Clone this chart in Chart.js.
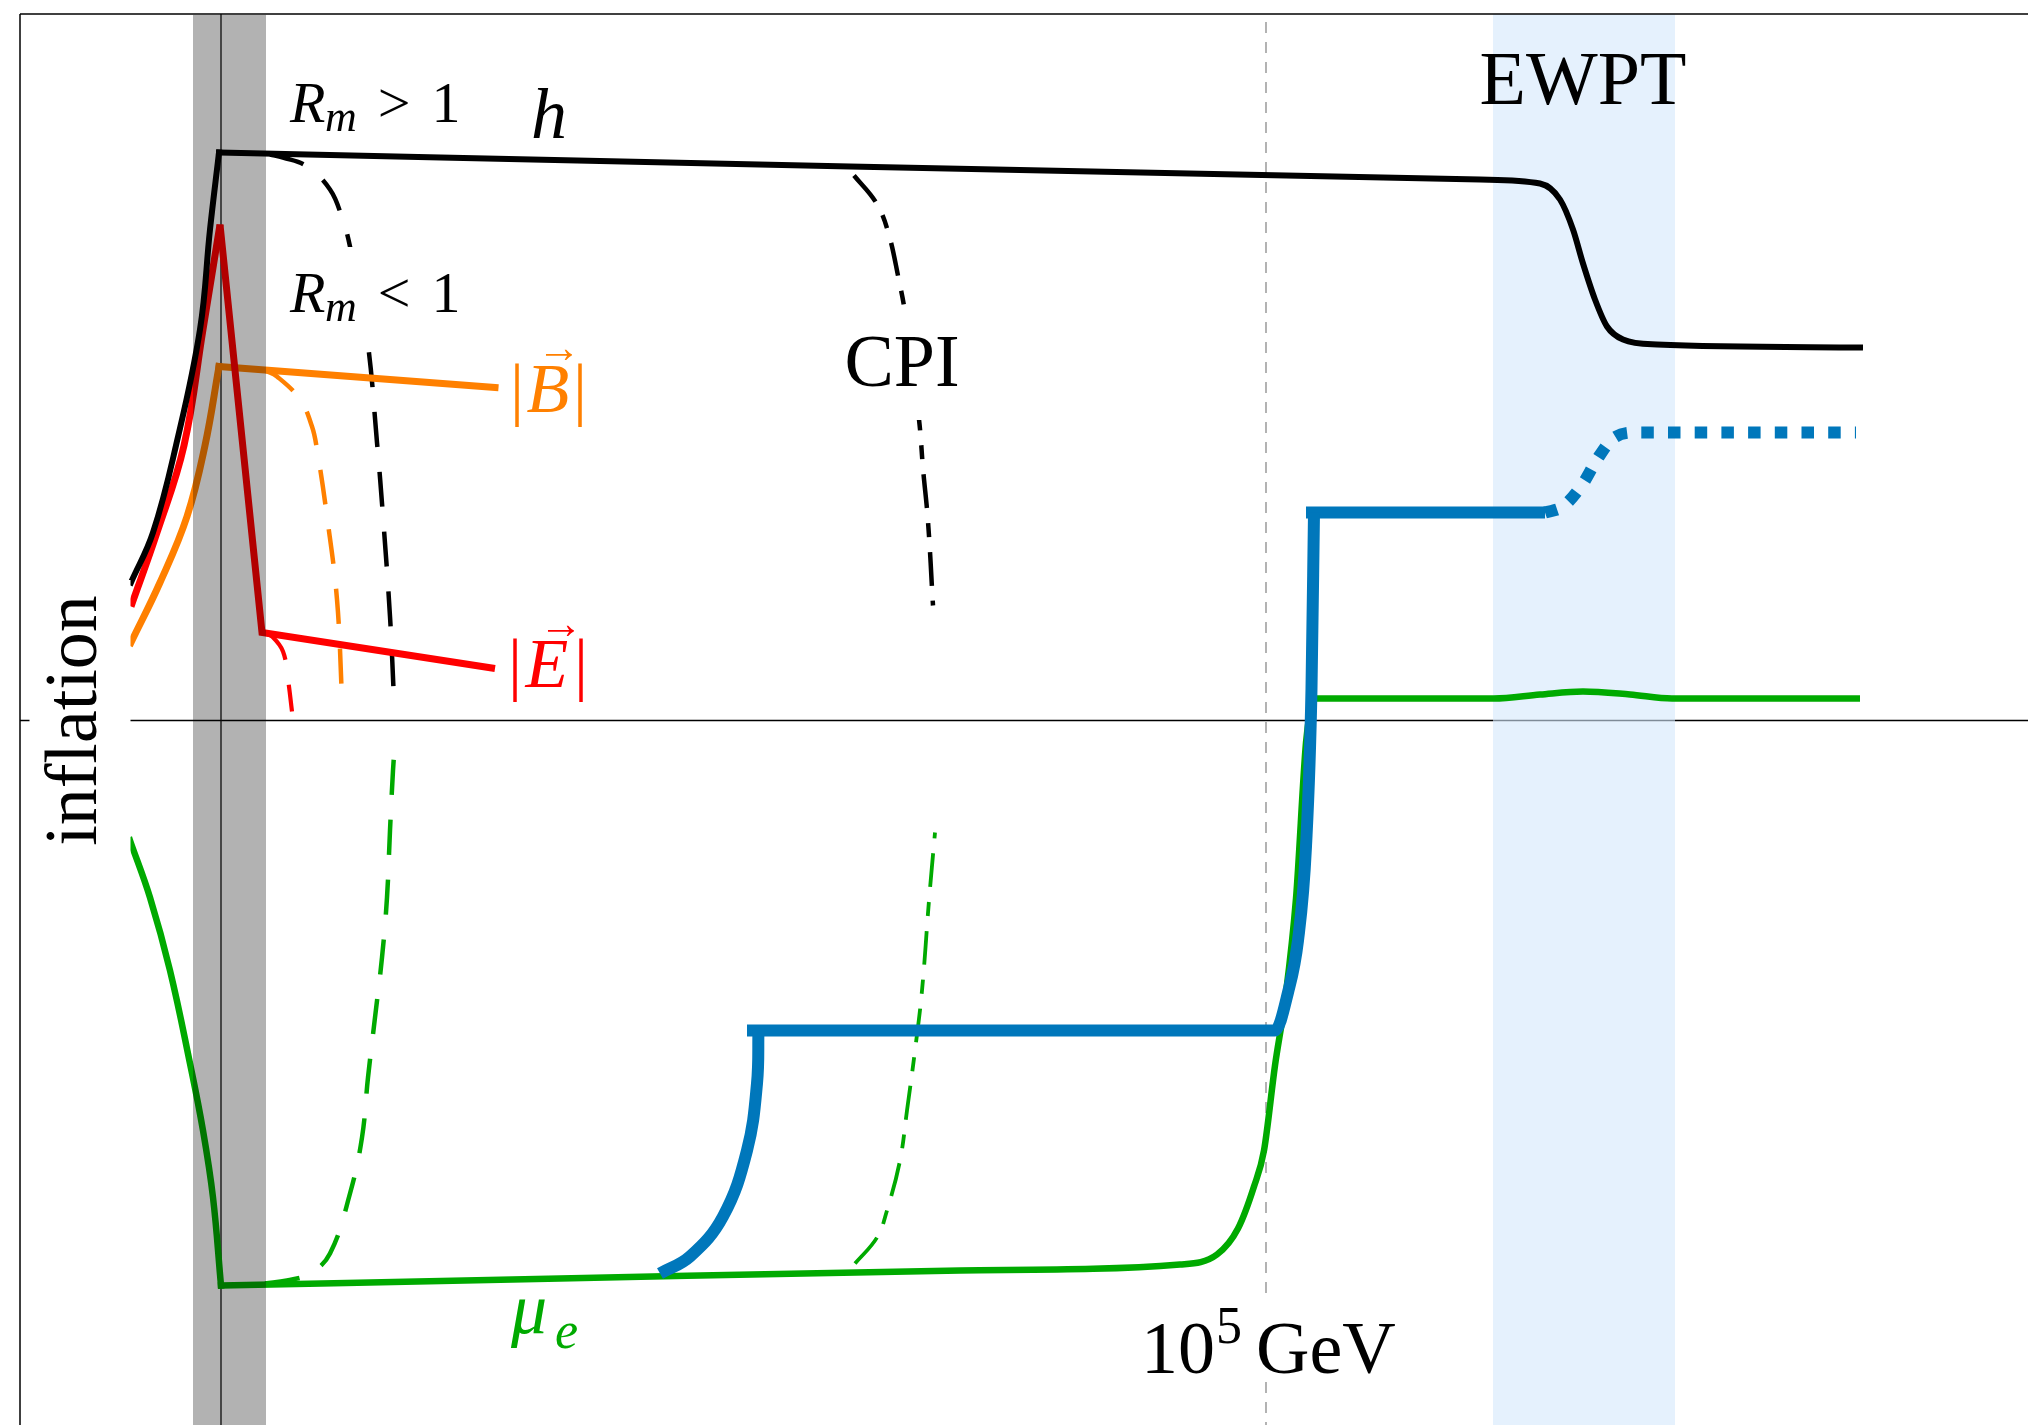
<!DOCTYPE html>
<html>
<head>
<meta charset="utf-8">
<title>Magnetic fields, chemical potential and the electroweak transition</title>
<script src="https://cdn.jsdelivr.net/npm/chart.js@4.4.1/dist/chart.umd.min.js"></script>
<style>
  html, body { margin: 0; padding: 0; background: #ffffff; }
  canvas { display: block; }
</style>
</head>
<body>
<canvas id="c" width="2028" height="1425"></canvas>
<script>
// Schematic history: horizontal = time (end of inflation at 0),
// vertical = log of the magnitude (arbitrary units, 0 on the middle axis).

// ---- Higgs vev h ----
const hRiseX = [-0.90, -0.68, -0.45, -0.21, -0.11, -0.02];
const hRiseY = [1.38, 1.88, 2.75, 3.91, 4.91, 5.68];
const hX = [-0.02, 6.29, 12.59, 13.19, 13.39, 13.52, 13.62, 13.74, 13.86, 14.02, 14.36, 16.39];
const hY = [5.68, 5.54, 5.41, 5.37, 5.21, 4.91, 4.57, 4.21, 3.94, 3.81, 3.76, 3.73];

// ---- electric field |E| ----
const eRiseX = [-0.90, -0.64, -0.37, -0.18, -0.01];
const eRiseY = [1.14, 1.88, 2.75, 3.91, 4.96];
const eX = [-0.01, 0.41, 2.74];
const eY = [4.96, 0.88, 0.52];

// ---- magnetic field |B| ----
const bRiseX = [-0.90, -0.61, -0.34, -0.16, -0.02];
const bRiseY = [0.78, 1.38, 2.04, 2.75, 3.54];
const bX = [-0.02, 2.74];
const bY = [3.54, 3.33];

// ---- electron chemical potential mu_e ----
const muFallX = [-0.91, -0.71, -0.51, -0.31, -0.18, -0.08, 0.00];
const muFallY = [-1.20, -1.77, -2.50, -3.43, -4.10, -4.77, -5.65];
const muX = [0.00, 3.39, 7.39, 9.59, 9.96, 10.17, 10.33, 10.43, 10.54, 10.64, 10.75, 10.85, 10.91];
const muY = [-5.65, -5.58, -5.50, -5.44, -5.34, -5.08, -4.66, -4.30, -3.45, -2.80, -1.78, -0.22, 0.21];
const muLateX = [10.93, 12.73, 13.19, 13.62, 14.09, 14.51, 16.39];
const muLateY = [0.22, 0.22, 0.26, 0.29, 0.26, 0.22, 0.22];

// ---- chiral asymmetry (thick blue) ----
const asymRiseX = [4.39, 4.69, 5.02, 5.26, 5.36, 5.375];
const asymRiseY = [-5.53, -5.36, -4.96, -4.30, -3.63, -3.08];
const asymStepX = [5.26, 7.79, 10.54, 10.67, 10.77, 10.85, 10.905, 10.93];
const asymStepY = [-3.10, -3.10, -3.10, -2.72, -2.20, -1.26, 0.32, 2.08];
const asymHighX = [10.85, 13.24];
const asymHighY = [2.08, 2.08];
const asymAfterX = [13.24, 13.42, 13.62, 13.76, 13.92, 14.16, 14.79, 16.35];
const asymAfterY = [2.08, 2.14, 2.37, 2.61, 2.82, 2.88, 2.88, 2.88];

// ---- alternative branches (dashed) ----
const rmHX = [0.49, 0.62, 0.86, 1.09, 1.21, 1.29, 1.46, 1.56, 1.62, 1.69, 1.73];
const rmHY = [5.66, 5.63, 5.54, 5.31, 5.03, 4.74, 3.83, 2.78, 2.04, 1.04, 0.21];
const rmMuX = [0.44, 0.66, 0.89, 1.09, 1.29, 1.41, 1.47, 1.54, 1.61, 1.66, 1.69, 1.72, 1.74];
const rmMuY = [-5.63, -5.60, -5.53, -5.33, -4.73, -4.17, -3.57, -2.97, -2.37, -1.77, -1.10, -0.50, -0.22];
const rmBX = [0.44, 0.56, 0.79, 0.91, 0.96, 1.06, 1.16, 1.21];
const rmBY = [3.50, 3.44, 3.21, 2.94, 2.71, 2.04, 1.21, 0.23];
const rmEX = [0.44, 0.51, 0.62, 0.67, 0.71];
const rmEY = [0.87, 0.84, 0.69, 0.41, 0.09];
const cpiHX = [6.33, 6.55, 6.67, 6.78, 6.84, 6.98, 7.02, 7.07, 7.12];
const cpiHY = [5.45, 5.18, 4.89, 4.40, 4.08, 3.01, 2.52, 1.99, 1.15];
const cpiMuX = [6.34, 6.56, 6.66, 6.79, 6.86, 6.94, 7.01, 7.08, 7.14];
const cpiMuY = [-5.43, -5.17, -4.90, -4.40, -3.90, -3.30, -2.70, -1.80, -1.12];

// ---- regions and markers ----
const reheatBand = [-0.28, 0.45];      // shaded reheating interval
const ewptBand = [12.72, 14.54];       // electroweak phase transition
const gevMark = 10.45;                 // 10^5 GeV
const frameLeft = -2.01, frameTop = 7.065;

// ---- text ----
const SERIF = '"Liberation Serif", "Times New Roman", "DejaVu Serif", serif';
const txtInflation = 'inflation';
const txtCPI = 'CPI';
const txtEWPT = 'EWPT';
const txtGeV = 'GeV';

const C_BLACK = '#000000', C_RED = '#ff0000', C_ORANGE = '#ff8000',
      C_GREEN = '#00aa00', C_BLUE = '#0077bb';

function pts(xs, ys) { return xs.map((x, i) => ({ x: x, y: ys[i] })); }
function series(label, xs, ys, style) {
  return Object.assign({
    label: label, data: pts(xs, ys), showLine: true, fill: false,
    pointRadius: 0, pointHoverRadius: 0, borderJoinStyle: 'miter', tension: 0
  }, style);
}

const RM_DASH = [35, 25];
const CPI_DASH = [34, 15, 14, 15];

const datasets = [
  series('asym rise', asymRiseX, asymRiseY, { borderColor: C_BLUE, borderWidth: 12, tension: 0.4, order: 1 }),
  series('asym step', asymStepX, asymStepY, { borderColor: C_BLUE, borderWidth: 12, cubicInterpolationMode: 'monotone', order: 1 }),
  series('asym high', asymHighX, asymHighY, { borderColor: C_BLUE, borderWidth: 12, order: 1 }),
  series('asym after', asymAfterX, asymAfterY, { borderColor: C_BLUE, borderWidth: 12, borderDash: [12.5, 14.2], cubicInterpolationMode: 'monotone', order: 1 }),

  series('h rise', hRiseX, hRiseY, { borderColor: C_BLACK, borderWidth: 6, tension: 0.4, borderCapStyle: 'square', order: 3 }),
  series('h', hX, hY, { borderColor: C_BLACK, borderWidth: 6, cubicInterpolationMode: 'monotone', borderCapStyle: 'square', order: 3 }),

  series('E rise', eRiseX, eRiseY, { borderColor: C_RED, borderWidth: 7, tension: 0.4, order: 4 }),
  series('E', eX, eY, { borderColor: C_RED, borderWidth: 7, order: 4 }),

  series('B rise', bRiseX, bRiseY, { borderColor: C_ORANGE, borderWidth: 7, tension: 0.4, borderCapStyle: 'square', order: 5 }),
  series('B', bX, bY, { borderColor: C_ORANGE, borderWidth: 7, borderCapStyle: 'square', order: 5 }),

  series('mu fall', muFallX, muFallY, { borderColor: C_GREEN, borderWidth: 6.5, tension: 0.4, borderCapStyle: 'square', order: 6 }),
  series('mu', muX, muY, { borderColor: C_GREEN, borderWidth: 6.5, cubicInterpolationMode: 'monotone', borderCapStyle: 'square', order: 6 }),
  series('mu late', muLateX, muLateY, { borderColor: C_GREEN, borderWidth: 6.5, cubicInterpolationMode: 'monotone', order: 6 }),

  series('Rm h', rmHX, rmHY, { borderColor: C_BLACK, borderWidth: 4.5, borderDash: RM_DASH, tension: 0.4, order: 10 }),
  series('Rm mu', rmMuX, rmMuY, { borderColor: C_GREEN, borderWidth: 4.5, borderDash: RM_DASH, tension: 0.4, order: 10 }),
  series('Rm B', rmBX, rmBY, { borderColor: C_ORANGE, borderWidth: 4.5, borderDash: RM_DASH, tension: 0.4, order: 10 }),
  series('Rm E', rmEX, rmEY, { borderColor: C_RED, borderWidth: 4.2, borderDash: RM_DASH, tension: 0.4, order: 10 }),
  series('CPI h', cpiHX, cpiHY, { borderColor: C_BLACK, borderWidth: 4.5, borderDash: CPI_DASH, tension: 0.4, order: 10 }),
  series('CPI mu', cpiMuX, cpiMuY, { borderColor: C_GREEN, borderWidth: 3.8, borderDash: CPI_DASH, tension: 0.4, order: 10 })
];

function hline(ctx, x0, x1, y) { ctx.beginPath(); ctx.moveTo(x0, y); ctx.lineTo(x1, y); ctx.stroke(); }
function vline(ctx, x, y0, y1) { ctx.beginPath(); ctx.moveTo(x, y0); ctx.lineTo(x, y1); ctx.stroke(); }
function text(ctx, s, x, y, size, color, opts) {
  opts = opts || {};
  ctx.font = (opts.italic ? 'italic ' : '') + size + 'px ' + SERIF;
  ctx.fillStyle = color;
  ctx.textAlign = opts.align || 'left';
  ctx.textBaseline = 'alphabetic';
  ctx.fillText(s, x, y);
}
function whiteBox(ctx, sx, sy, x0, x1, y0, y1) {
  const a = sx.getPixelForValue(x0), b = sx.getPixelForValue(x1);
  const c = sy.getPixelForValue(y0), d = sy.getPixelForValue(y1);
  ctx.fillStyle = '#ffffff';
  ctx.fillRect(Math.min(a, b), Math.min(c, d), Math.abs(b - a), Math.abs(d - c));
}

const decor = {
  id: 'decor',
  beforeDatasetsDraw(chart) {
    const ctx = chart.ctx, sx = chart.scales.x, sy = chart.scales.y;
    const W = chart.width, H = chart.height;
    const top = sy.getPixelForValue(frameTop), left = sx.getPixelForValue(frameLeft);
    ctx.save();
    // horizontal zero line
    ctx.strokeStyle = '#000'; ctx.lineWidth = 1.4;
    hline(ctx, left, W, sy.getPixelForValue(0));
    // electroweak band
    const e0 = sx.getPixelForValue(ewptBand[0]), e1 = sx.getPixelForValue(ewptBand[1]);
    ctx.fillStyle = 'rgba(212,232,252,0.6)';
    ctx.fillRect(e0, top, e1 - e0, H - top);
    // 10^5 GeV marker
    ctx.strokeStyle = '#a0a0a0'; ctx.lineWidth = 1.6; ctx.setLineDash([11, 9]);
    vline(ctx, sx.getPixelForValue(gevMark), top + 8, H);
    ctx.setLineDash([]);
    // end of inflation
    ctx.strokeStyle = '#111'; ctx.lineWidth = 1.3;
    vline(ctx, sx.getPixelForValue(0), top, H);
    // frame
    ctx.strokeStyle = '#000'; ctx.lineWidth = 1.5;
    hline(ctx, left, W, top);
    vline(ctx, left, top, H);
    ctx.restore();
  },
  afterDatasetsDraw(chart) {
    const ctx = chart.ctx, sx = chart.scales.x, sy = chart.scales.y;
    const H = chart.height;
    const top = sy.getPixelForValue(frameTop);
    const X = v => sx.getPixelForValue(v), Y = v => sy.getPixelForValue(v);
    ctx.save();
    // reheating band
    const r0 = X(reheatBand[0]), r1 = X(reheatBand[1]);
    ctx.fillStyle = 'rgba(0,0,0,0.3)';
    ctx.fillRect(r0, top + 1, r1 - r0, H - top);

    // label backgrounds
    whiteBox(ctx, sx, sy, 0.59, 2.44, 4.735, 3.825);
    whiteBox(ctx, sx, sy, 6.14, 7.49, 4.085, 3.005);
    whiteBox(ctx, sx, sy, 9.14, 11.79, -5.815, -6.615);
    whiteBox(ctx, sx, sy, -1.915, -0.905, 1.405, -1.415);

    // R_m > 1 and R_m < 1
    [[0.69, 5.985, '>'], [0.69, 4.09, '<']].forEach(function (r) {
      const px = X(r[0]), py = Y(r[1]);
      text(ctx, 'R', px, py, 58, C_BLACK, { italic: true });
      text(ctx, 'm', px + 35, py + 9, 44, C_BLACK, { italic: true });
      text(ctx, r[2], px + 104, py, 58, C_BLACK, { align: 'center' });
      text(ctx, '1', px + 156, py, 58, C_BLACK, { align: 'center' });
    });

    // h
    text(ctx, 'h', X(3.10), Y(5.825), 72, C_BLACK, { italic: true });

    // |B| with vector arrow
    let bx = X(2.96), by = Y(3.085);
    text(ctx, '|', bx, by, 70, C_ORANGE, { align: 'center' });
    text(ctx, 'B', bx + 31, by, 70, C_ORANGE, { italic: true, align: 'center' });
    text(ctx, '|', bx + 63, by, 70, C_ORANGE, { align: 'center' });
    text(ctx, '\u2192', bx + 42, by - 50, 44, C_ORANGE, { align: 'center' });

    // |E| with vector arrow
    let ex = X(2.94), ey = Y(0.335);
    text(ctx, '|', ex, ey, 70, C_RED, { align: 'center' });
    text(ctx, 'E', ex + 32, ey, 70, C_RED, { italic: true, align: 'center' });
    text(ctx, '|', ex + 66, ey, 70, C_RED, { align: 'center' });
    text(ctx, '\u2192', ex + 46, ey - 49, 44, C_RED, { align: 'center' });

    // CPI, EWPT
    text(ctx, txtCPI, X(6.81), Y(3.345), 74, C_BLACK, { align: 'center' });
    text(ctx, txtEWPT, X(13.62), Y(6.165), 76, C_BLACK, { align: 'center' });

    // mu_e
    const mx = X(2.90), my = Y(-6.125);
    text(ctx, '\u03bc', mx, my, 72, C_GREEN, { italic: true });
    text(ctx, 'e', mx + 44, my + 15, 52, C_GREEN, { italic: true });

    // 10^5 GeV
    const gx = X(9.20), gy = Y(-6.525);
    text(ctx, '10', gx, gy, 74, C_BLACK);
    text(ctx, '5', gx + 75, gy - 30, 52, C_BLACK);
    text(ctx, txtGeV, gx + 115, gy, 74, C_BLACK);

    // inflation (vertical)
    ctx.translate(X(-1.25), Y(0));
    ctx.rotate(-Math.PI / 2);
    text(ctx, txtInflation, 0, 0, 74, C_BLACK, { align: 'center' });
    ctx.restore();
  }
};

new Chart(document.getElementById('c'), {
  type: 'scatter',
  data: { datasets: datasets },
  options: {
    responsive: false,
    animation: false,
    devicePixelRatio: 1,
    events: [],
    layout: { padding: 0 },
    elements: { point: { radius: 0, hitRadius: 0 } },
    plugins: { legend: { display: false }, tooltip: { enabled: false } },
    scales: {
      x: { type: 'linear', min: -2.21, max: 18.07, display: false },
      y: { type: 'linear', min: -7.045, max: 7.205, display: false }
    }
  },
  plugins: [decor]
});
</script>
</body>
</html>
